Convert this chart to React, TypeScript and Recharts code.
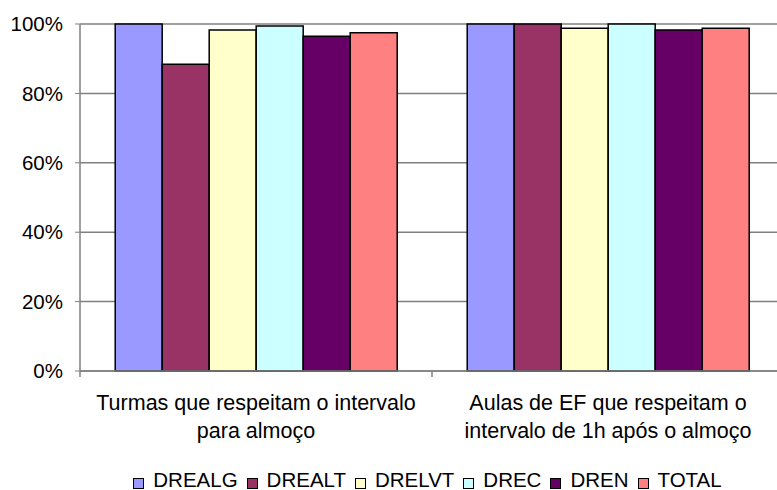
import React from "react"
import { BarChart, Bar, XAxis, YAxis, CartesianGrid, Legend } from "recharts"

const categories = [
  "Turmas que respeitam o intervalo para almoço",
  "Aulas de EF que respeitam o intervalo de 1h após o almoço",
]
const categoryLines = [
  ["Turmas que respeitam o intervalo", "para almoço"],
  ["Aulas de EF que respeitam o", "intervalo de 1h após o almoço"],
]
const seriesNames = ["DREALG", "DREALT", "DRELVT", "DREC", "DREN", "TOTAL"]
const drealg = [1.0, 1.0]
const drealt = [0.884, 1.0]
const drelvt = [0.983, 0.988]
const drec = [0.994, 1.0]
const dren = [0.965, 0.983]
const total = [0.975, 0.988]
const yTicks = [0, 0.2, 0.4, 0.6, 0.8, 1]
const edgeTicks = [0, 1, 2]
const colors = ["#9999FF", "#993366", "#FFFFCC", "#CCFFFF", "#660066", "#FF8080"]

const seriesValues = [drealg, drealt, drelvt, drec, dren, total]
const data = categories.map((name, i) => {
  const row: Record<string, string | number> = { name, edge: i }
  seriesNames.forEach((s, k) => (row[s] = seriesValues[k][i]))
  return row
})

const font = "'Liberation Sans', Arial, sans-serif"
const grey = "#808080"

function CategoryTick({ x, y, payload }: any) {
  const lines = categoryLines[categories.indexOf(payload.value)] ?? []
  return (
    <g>
      {lines.map((l, k) => (
        <text key={k} x={x} y={y + 39 + k * 28} textAnchor="middle" fontSize={21.5} fill="#000" fontFamily={font}>
          {l}
        </text>
      ))}
    </g>
  )
}

function LegendBoxes() {
  return (
    <div style={{ height: 40, display: "flex", alignItems: "flex-end", justifyContent: "center", fontFamily: font, fontSize: 20.5, lineHeight: "20px", color: "#000" }}>
      {seriesNames.map((s, i) => (
        <span key={s} style={{ display: "flex", alignItems: "center", marginRight: 9 }}>
          <span style={{ display: "inline-block", width: 9, height: 9, border: "1.5px solid #000", background: colors[i], marginRight: 9, marginTop: 6 }} />
          {s}
        </span>
      ))}
    </div>
  )
}

export default function App() {
  return (
    <div style={{ position: "absolute", left: 8, top: 8, width: 769, height: 482, overflow: "hidden", background: "#fff" }}>
      <BarChart width={780} height={482} data={data} margin={{ top: 16, right: 4, bottom: 0, left: 0 }} barCategoryGap="10%" barGap={0}>
        <CartesianGrid vertical={false} stroke={grey} strokeWidth={1.5} />
        <XAxis xAxisId="cat" dataKey="name" height={79} tickLine={false} tickSize={0} tickMargin={0} axisLine={{ stroke: grey, strokeWidth: 1.5 }} tick={<CategoryTick />} interval={0} />
        <XAxis
          xAxisId="edges"
          dataKey="edge"
          type="number"
          domain={[0, 2]}
          ticks={edgeTicks}
          height={1}
          mirror
          axisLine={false}
          tickSize={-6}
          tickLine={{ stroke: grey, strokeWidth: 1.5 }}
          tick={() => <g />}
        />
        <YAxis
          width={72}
          domain={[0, 1]}
          ticks={yTicks}
          tickFormatter={(v) => `${Math.round(v * 100)}%`}
          tickSize={5}
          tickMargin={12}
          axisLine={{ stroke: grey, strokeWidth: 1.5 }}
          tickLine={{ stroke: grey }}
          tick={{ fontSize: 20.5, fill: "#000", fontFamily: font }}
        />
        <Legend verticalAlign="bottom" content={<LegendBoxes />} wrapperStyle={{ left: 72, width: 704 }} />
        {seriesNames.map((s, i) => (
          <Bar key={s} xAxisId="cat" dataKey={s} fill={colors[i]} stroke="#000" strokeWidth={1.5} isAnimationActive={false} />
        ))}
      </BarChart>
    </div>
  )
}
